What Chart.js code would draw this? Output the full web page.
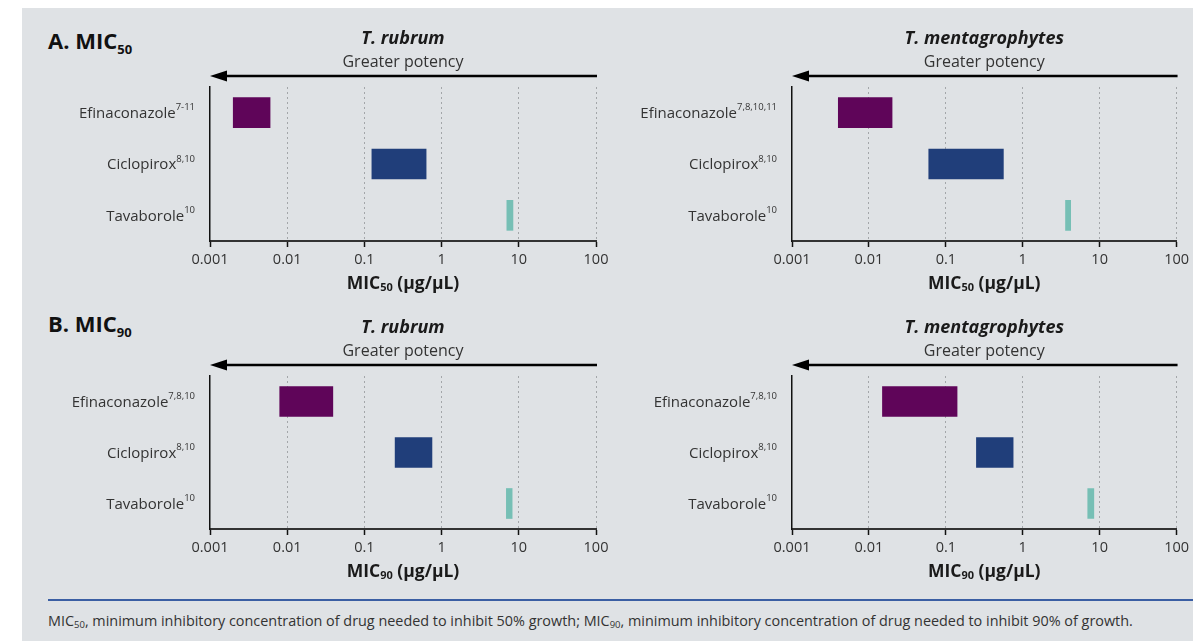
<!DOCTYPE html>
<html><head><meta charset="utf-8">
<script src="https://cdn.jsdelivr.net/npm/chart.js@4.4.0/dist/chart.umd.min.js"></script>
<style>
html,body{margin:0;padding:0;background:#fff;width:1193px;height:641px;overflow:hidden;font-family:"Open Sans",Lato,sans-serif;}
#panel{position:absolute;left:22px;top:8px;right:0;bottom:0;background:#dfe2e5;}
.box{position:absolute;}
.head{position:absolute;left:48px;font-weight:bold;font-size:22px;color:#111;line-height:24px;}
.head sub{font-size:13px;vertical-align:-5px;line-height:0;}
#sep{position:absolute;left:48px;right:0;top:599px;height:1.6px;background:#3a5ea3;}
#foot{position:absolute;left:48px;top:611px;font-size:14.4px;color:#333;white-space:nowrap;}
#foot sub{font-size:9.5px;vertical-align:-2px;line-height:0;}
</style></head>
<body>
<div id="panel"></div>
<div class="head" style="top:28px">A. MIC<sub>50</sub></div>
<div class="head" style="top:311px">B. MIC<sub>90</sub></div>
<div class="box" id="b1" style="left:30px;top:20px;width:590px;height:280px"><canvas id="c1"></canvas></div>
<div class="box" id="b2" style="left:612px;top:20px;width:581px;height:280px"><canvas id="c2"></canvas></div>
<div class="box" id="b3" style="left:30px;top:309px;width:590px;height:280px"><canvas id="c3"></canvas></div>
<div class="box" id="b4" style="left:612px;top:309px;width:581px;height:280px"><canvas id="c4"></canvas></div>
<div id="sep"></div>
<div id="foot">MIC<sub>50</sub>, minimum inhibitory concentration of drug needed to inhibit 50% growth; MIC<sub>90</sub>, minimum inhibitory concentration of drug needed to inhibit 90% of growth.</div>
<script>
// ---- data ----
const drugs = ['Efinaconazole', 'Ciclopirox', 'Tavaborole'];
const refsMic50Rubrum = ['7-11', '8,10', '10'];
const refsMic50Menta = ['7,8,10,11', '8,10', '10'];
const refsMic90Rubrum = ['7,8,10', '8,10', '10'];
const refsMic90Menta = ['7,8,10', '8,10', '10'];
const mic50Rubrum = [[0.002, 0.006], [0.125, 0.63], [7.0, 8.4]];
const mic50Menta = [[0.004, 0.02], [0.06, 0.56], [3.6, 4.2]];
const mic90Rubrum = [[0.008, 0.039], [0.25, 0.75], [6.9, 8.2]];
const mic90Menta = [[0.015, 0.14], [0.25, 0.75], [7.0, 8.4]];
const tickValues = [0.001, 0.01, 0.1, 1, 10, 100];
const tickLabels = ['0.001', '0.01', '0.1', '1', '10', '100'];
const drugColors = ['#5f0559', '#203e7a', '#76bfb5'];

const FONT = '"Open Sans", Lato, sans-serif';

const deco = {
  id: 'deco',
  afterDraw(chart, args, o) {
    const ctx = chart.ctx, a = chart.chartArea, ys = chart.scales.y;
    const cx = (a.left + a.right) / 2;
    ctx.save();
    // species title
    ctx.fillStyle = '#1a1a1a';
    ctx.textAlign = 'center'; ctx.textBaseline = 'middle';
    ctx.font = 'italic bold 18px ' + FONT;
    ctx.fillText(o.species, cx, a.top - 48);
    ctx.font = '16px ' + FONT;
    ctx.fillStyle = '#333';
    ctx.fillText('Greater potency', cx, a.top - 25);
    // arrow
    const ay = a.top - 11;
    ctx.strokeStyle = '#000'; ctx.fillStyle = '#000'; ctx.lineWidth = 2.6;
    ctx.beginPath(); ctx.moveTo(a.left + 12, ay); ctx.lineTo(a.right + 1, ay); ctx.stroke();
    ctx.beginPath(); ctx.moveTo(a.left, ay); ctx.lineTo(a.left + 17, ay - 5.5); ctx.lineTo(a.left + 17, ay + 5.5); ctx.closePath(); ctx.fill();
    // y labels with superscripts
    ctx.textBaseline = 'middle'; ctx.textAlign = 'left';
    drugs.forEach((d, i) => {
      const y = ys.getPixelForTick(i);
      ctx.font = '9.5px ' + FONT;
      const sw = ctx.measureText(o.refs[i]).width;
      ctx.font = '15px ' + FONT;
      const nw = ctx.measureText(d).width;
      const right = a.left - 15;
      ctx.fillStyle = '#333';
      ctx.fillText(d, right - sw - nw, y + 1);
      ctx.font = '9.5px ' + FONT;
      ctx.fillText(o.refs[i], right - sw, y - 5);
    });
    // x axis title
    ctx.fillStyle = '#1a1a1a';
    const by = a.bottom + 43;
    const p1 = 'MIC', p2 = o.sub, p3 = ' (µg/µL)';
    ctx.font = 'bold 17.5px ' + FONT; const w1 = ctx.measureText(p1).width, w3 = ctx.measureText(p3).width;
    ctx.font = 'bold 11px ' + FONT; const w2 = ctx.measureText(p2).width;
    let x = cx - (w1 + w2 + w3) / 2;
    ctx.font = 'bold 17.5px ' + FONT; ctx.fillText(p1, x, by); x += w1;
    ctx.font = 'bold 11px ' + FONT; ctx.fillText(p2, x, by + 4); x += w2;
    ctx.font = 'bold 17.5px ' + FONT; ctx.fillText(p3, x, by);
    ctx.restore();
  }
};

function makeChart(id, values, refs, species, sub, padRight, padBottom) {
  return new Chart(document.getElementById(id), {
    type: 'bar',
    data: {
      labels: drugs,
      datasets: [{ data: values, backgroundColor: drugColors, borderWidth: 0, barThickness: 30 }]
    },
    options: {
      indexAxis: 'y',
      responsive: true, maintainAspectRatio: false, animation: false,
      layout: { padding: { left: 0, right: padRight, top: 67, bottom: padBottom } },
      plugins: { legend: { display: false }, tooltip: { enabled: false },
        deco: { refs: refs, species: species, sub: sub } },
      scales: {
        x: {
          type: 'logarithmic', min: 0.001, max: 100,
          afterBuildTicks: s => { s.ticks = tickValues.map(v => ({ value: v, major: true })); },
          afterFit: s => { s.height = 30; },
          ticks: { autoSkip: false, maxRotation: 0, padding: 4, color: '#333',
            font: { family: FONT, size: 14.5 },
            callback: (v, i) => tickLabels[i] },
          grid: { color: c => c.index === 0 ? 'rgba(0,0,0,0)' : '#a3a6a9', lineWidth: 1,
            tickColor: '#111', tickLength: 6, tickWidth: 1.5 },
          border: { color: '#333', width: 2, dash: [2, 3] }
        },
        y: {
          afterFit: s => { s.width = 180; },
          ticks: { display: false },
          grid: { display: false },
          border: { color: '#111', width: 1.5 }
        }
      }
    },
    plugins: [deco]
  });
}

makeChart('c1', mic50Rubrum, refsMic50Rubrum, 'T. rubrum', '50', 24, 29);
makeChart('c2', mic50Menta, refsMic50Menta, 'T. mentagrophytes', '50', 16, 29);
makeChart('c3', mic90Rubrum, refsMic90Rubrum, 'T. rubrum', '90', 24, 30);
makeChart('c4', mic90Menta, refsMic90Menta, 'T. mentagrophytes', '90', 16, 30);
</script>
</body></html>
